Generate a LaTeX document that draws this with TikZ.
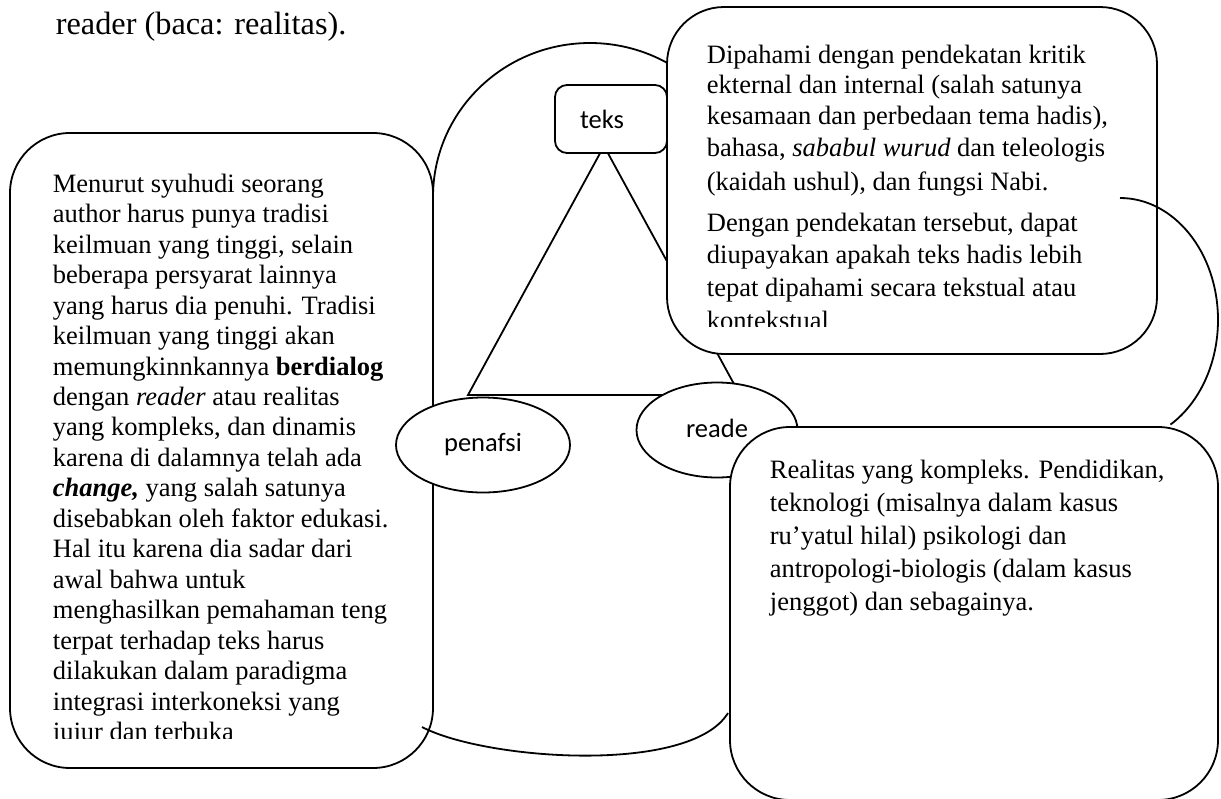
\documentclass[tikz,border=0pt]{standalone}
\usepackage{fontspec}
\setmainfont{Liberation Serif}
\newfontfamily\calibri{Carlito}
\usetikzlibrary{shapes.geometric}
\newcommand{\roundcell}[5]{ \draw[fill=white, rounded corners=#5] ( #1 , #2 ) rectangle ( #3 , #4 );}
\newcommand{\textline}[4]{ \node[anchor=base west, inner sep=0pt] (#1) at ( #2 , #3 ) {#4};}
\newcommand{\bubble}[6]{ \node[shape=ellipse, draw, fill=white, inner sep=0pt, minimum width=#4, minimum height=#5, font=\calibri\fontsize{26.5}{30}\selectfont] (#1) at ( #2 , #3 ) {#6};}

\begin{document}
\begin{tikzpicture}[x=1pt, y=-1pt, line width=1.8pt, font=\fontsize{26.5}{30}\selectfont]
        \useasboundingbox (0,0) rectangle (1221,798);

        % heading line
        \textline{head}{55}{34}{\fontsize{32.3}{36}\selectfont reader (baca: realitas).}

        % triangle
        \coordinate (apex) at (604,146);
        \coordinate (base1) at (468,395);
        \coordinate (base2) at (740,395);
        \draw (apex) -- (base1) -- (base2) -- cycle;

        % left box
        \roundcell{10}{133}{433}{768}{60pt}

        % can
        \draw (433,197) arc[start angle=180, end angle=30, x radius=157pt, y radius=154pt];
        \draw (422,727) .. controls (485,760) and (690,775) .. (728,713);

        % teks
        \node[draw, fill=white, rounded corners=12pt, minimum width=112pt, minimum height=68pt,
              text width=62pt, inner xsep=25pt, align=left, font=\calibri\fontsize{26.5}{30}\selectfont] (teks) at (611,119) {teks};

        \bubble{penafsi}{483}{445}{174pt}{95pt}{penafsi}
        \bubble{reader}{717}{430}{161pt}{95pt}{\raisebox{3pt}{reade}}

        % right box top
        \roundcell{667}{7}{1157}{354}{57pt}
        \begin{scope}
        \clip (667,7) rectangle (1157,326.5);
        \textline{r1}{706}{63}{Dipahami dengan pendekatan kritik}
        \textline{r2}{706}{93}{ekternal dan internal (salah satunya}
        \textline{r3}{706}{124}{kesamaan dan perbedaan tema hadis),}
        \textline{r4}{706}{156}{bahasa, \textit{sababul wurud} dan teleologis}
        \textline{r5}{706}{190}{(kaidah ushul), dan fungsi Nabi.}
        \textline{r6}{706}{231}{Dengan pendekatan tersebut, dapat}
        \textline{r7}{706}{263}{diupayakan apakah teks hadis lebih}
        \textline{r8}{706}{296}{tepat dipahami secara tekstual atau}
        \textline{r9}{706}{329}{kontekstual}
        \end{scope}

        % right box bottom
        \roundcell{730}{427}{1218}{800}{60pt}
        \textline{b1}{769}{478}{Realitas yang kompleks. Pendidikan,}
        \textline{b2}{769}{511}{teknologi (misalnya dalam kasus}
        \textline{b3}{769}{544}{ru’yatul hilal) psikologi dan}
        \textline{b4}{769}{577}{antropologi-biologis (dalam kasus}
        \textline{b5}{769}{610}{jenggot) dan sebagainya.}

        % link between the two right boxes
        \coordinate (link) at (1120,198);
        \draw (link) arc[start angle=90, end angle=-59, x radius=98pt, y radius=122pt];

        % left box text
        \begin{scope}
        \clip (10,133) rectangle (433,738);
        \textline{l1}{52}{192}{Menurut syuhudi seorang}
        \textline{l2}{52}{222}{author harus punya tradisi}
        \textline{l3}{52}{253}{keilmuan yang tinggi, selain}
        \textline{l4}{52}{283}{beberapa persyarat lainnya}
        \textline{l5}{52}{314}{yang harus dia penuhi. Tradisi}
        \textline{l6}{52}{344}{keilmuan yang tinggi akan}
        \textline{l7}{52}{375}{memungkinnkannya \textbf{berdialog}}
        \textline{l8}{52}{405}{dengan \textit{reader} atau realitas}
        \textline{l9}{52}{435}{yang kompleks, dan dinamis}
        \textline{l10}{52}{466}{karena di dalamnya telah ada}
        \textline{l11}{52}{496}{\textbf{\textit{change,}} yang salah satunya}
        \textline{l12}{52}{527}{disebabkan oleh faktor edukasi.}
        \textline{l13}{52}{557}{Hal itu karena dia sadar dari}
        \textline{l14}{52}{588}{awal bahwa untuk}
        \textline{l15}{52}{618}{menghasilkan pemahaman teng}
        \textline{l16}{52}{649}{terpat terhadap teks harus}
        \textline{l17}{52}{679}{dilakukan dalam paradigma}
        \textline{l18}{52}{710}{integrasi interkoneksi yang}
        \textline{l19}{52}{740}{jujur dan terbuka}
        \end{scope}

    \end{tikzpicture}
\end{document}
